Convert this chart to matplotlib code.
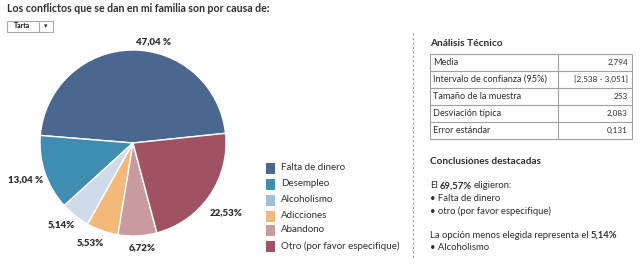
import matplotlib
matplotlib.use("Agg")
import matplotlib.pyplot as plt
from matplotlib.patches import Rectangle
import numpy as np

plt.rcParams['font.family'] = ['Lato', 'DejaVu Sans']

# ---- data ----
categories = ["Falta de dinero", "Desempleo", "Alcoholismo", "Adicciones",
              "Abandono", "Otro (por favor especifique)"]
values = [47.04, 13.04, 5.14, 5.53, 6.72, 22.53]
value_labels = ["47,04 %", "13,04 %", "5,14%", "5,53%", "6,72%", "22,53%"]
pie_colors = ["#4a6790", "#3f8db0", "#cfdbe9", "#f2b97a", "#c99a9e", "#a05262"]
legend_colors = ["#4a6790", "#3f8db0", "#a3bdd8", "#f2b97a", "#c99a9e", "#a05262"]

title = "Los conflictos que se dan en mi familia son por causa de:"
stats_names = ["Media", "Intervalo de confianza (95%)", "Tamaño de la muestra",
               "Desviación típica", "Error estándar"]
stats_values = ["2,794", "[2,538 - 3,051]", "253", "2,083", "0,131"]

TXT = "#2e2e2e"
W, H = 643, 267
fig = plt.figure(figsize=(W / 100, H / 100), dpi=100)

# overlay axes in pixel coordinates
ov = fig.add_axes([0, 0, 1, 1])
ov.set_xlim(0, W)
ov.set_ylim(H, 0)
ov.axis("off")

# ---- pie ----
cx, cy, r = 133, 143, 93
pax = fig.add_axes([(cx - r) / W, (H - cy - r) / H, 2 * r / W, 2 * r / H])
wedges, _ = pax.pie(values, colors=pie_colors, startangle=6, counterclock=True,
                    radius=1, wedgeprops=dict(edgecolor="white", linewidth=1))
pax.set_xlim(-1, 1)
pax.set_ylim(-1, 1)
pax.set_aspect("equal")
pax.axis("off")

lab_dist = [1.11, 1.22, 1.17, 1.16, 1.13, 1.25]
lab_dang = [-12, 0, -3, -4, 2, -2]
for w, lab, d, da in zip(wedges, value_labels, lab_dist, lab_dang):
    ang = np.deg2rad((w.theta1 + w.theta2) / 2 + da)
    pax.text(d * np.cos(ang), d * np.sin(ang), lab, ha="center", va="center",
             fontsize=6.9, fontweight="heavy", color=TXT, clip_on=False)

# ---- title & dropdown ----
ov.text(7, 9, title, fontsize=7.6, fontweight="bold", color=TXT, va="center", ha="left")
ov.add_patch(Rectangle((7, 20.5), 46, 11, facecolor="white", edgecolor="#aaaaaa", lw=0.8))
ov.plot([39, 39], [21.5, 30.5], color="#aaaaaa", lw=0.8)
ov.text(22, 26, "Tarta", fontsize=4.8, fontweight="heavy", color=TXT, ha="center", va="center")
ov.text(46, 26.3, "▾", fontsize=5, color=TXT, ha="center", va="center", family="DejaVu Sans")

# ---- legend ----
leg_y = [168, 184, 200, 216, 230, 246]
for c, name, y in zip(legend_colors, categories, leg_y):
    ov.add_patch(Rectangle((266, y - 5.5), 9, 11, facecolor=c, edgecolor="none"))
    ov.text(281, y, name, fontsize=7.0, color=TXT, ha="left", va="center")

# ---- dashed divider ----
ov.plot([413, 413], [33, 258], color="#999999", lw=0.8, ls=(0, (2, 2)))

# ---- table ----
ov.text(430, 43, "Análisis Técnico", fontsize=7.3, fontweight="bold", color=TXT, va="center")
tx0, tx1, tx2 = 430, 558, 632
ty0, rh = 54, 17
n = len(stats_names)
ov.add_patch(Rectangle((tx0, ty0), tx2 - tx0, rh * n, facecolor="none", edgecolor="#a0a0a0", lw=0.8))
ov.plot([tx1, tx1], [ty0, ty0 + rh * n], color="#a0a0a0", lw=0.8)
for i, (nm, v) in enumerate(zip(stats_names, stats_values)):
    yc = ty0 + rh * (i + 0.5)
    if i > 0:
        ov.plot([tx0, tx2], [ty0 + rh * i] * 2, color="#a0a0a0", lw=0.8)
    ov.text(tx0 + 3, yc, nm, fontsize=6.6, color=TXT, ha="left", va="center")
    ov.text(tx2 - 4, yc, v, fontsize=5.9, color=TXT, ha="right", va="center")

# ---- conclusions ----
ov.text(430, 161, "Conclusiones destacadas", fontsize=7.2, fontweight="bold", color=TXT, va="center")

FS = 6.8


def mixed(x, y, parts):
    t = ov.text(x, y, parts[0][0], fontsize=FS, color=TXT, va="center", ha="left",
                fontweight="bold" if parts[0][1] else "normal")
    for s, bold in parts[1:]:
        t = ov.annotate(s, xy=(1, 0.5), xycoords=t, xytext=(1.2, 0),
                        textcoords="offset points", fontsize=FS, color=TXT,
                        va="center", ha="left",
                        fontweight="bold" if bold else "normal")


mixed(430, 186, [("El", False), ("69,57%", True), ("eligieron:", False)])
ov.text(430, 198.5, "• Falta de dinero", fontsize=FS, color=TXT, va="center")
ov.text(430, 211, "• otro (por favor especifique)", fontsize=FS, color=TXT, va="center")
mixed(430, 235, [("La opción menos elegida representa el", False), ("5,14%", True)])
ov.text(430, 247, "• Alcoholismo", fontsize=FS, color=TXT, va="center")

fig.savefig("out.png", dpi=100, facecolor="white")
